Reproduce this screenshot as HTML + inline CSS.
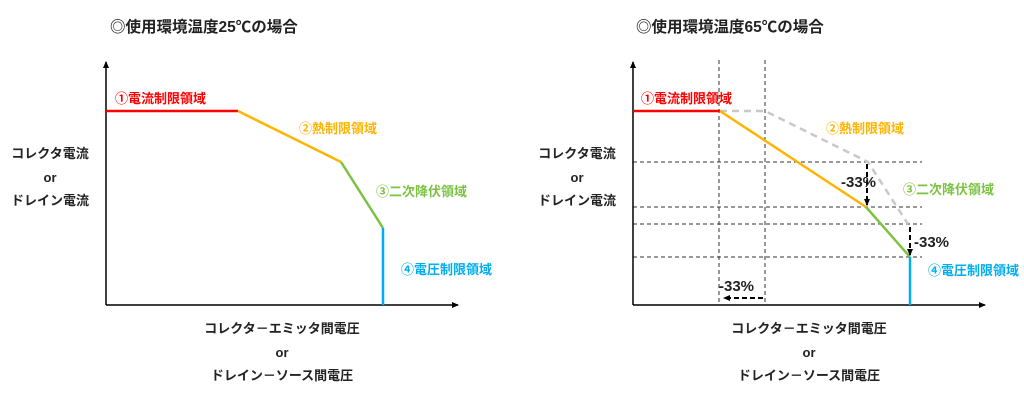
<!DOCTYPE html>
<html><head><meta charset="utf-8"><style>
html,body{margin:0;padding:0;background:#fff;}
svg{display:block;}
text{font-family:"Liberation Sans","Noto Sans CJK JP",sans-serif;font-weight:bold;}
</style></head><body>
<svg width="1024" height="414" viewBox="0 0 1024 414" xmlns="http://www.w3.org/2000/svg">
<defs>
<marker id="ah" markerWidth="8" markerHeight="8" refX="6" refY="4" orient="auto" markerUnits="userSpaceOnUse"><path d="M0,1 L7,4 L0,7 z" fill="#000"/></marker>
</defs>
<!-- LEFT -->
<text x="110" y="32" font-size="15.5" fill="#222">◎使用環境温度25℃の場合</text>
<line x1="106" y1="305" x2="106" y2="62" stroke="#000" stroke-width="1.5" marker-end="url(#ah)"/>
<line x1="106" y1="305" x2="458" y2="305" stroke="#000" stroke-width="1.5" marker-end="url(#ah)"/>
<line x1="106" y1="111" x2="238" y2="111" stroke="#f00" stroke-width="2.5"/>
<line x1="238" y1="111" x2="341" y2="162" stroke="#ffb400" stroke-width="2.5"/>
<line x1="341" y1="162" x2="383" y2="228" stroke="#7cc242" stroke-width="2.5"/>
<line x1="383" y1="228" x2="383" y2="305" stroke="#00aeef" stroke-width="2.5"/>
<text x="115" y="103" font-size="13" fill="#f00">①電流制限領域</text>
<text x="299" y="133" font-size="13" fill="#ffb400">②熱制限領域</text>
<text x="376" y="196" font-size="13" fill="#7cc242">③二次降伏領域</text>
<text x="401" y="274" font-size="13" fill="#00aeef">④電圧制限領域</text>
<g font-size="13" fill="#222" text-anchor="middle">
<text x="50" y="158">コレクタ電流</text>
<text x="50" y="182">or</text>
<text x="50" y="205">ドレイン電流</text>
<text x="282" y="333">コレクタ－エミッタ間電圧</text>
<text x="282" y="357">or</text>
<text x="282" y="380">ドレイン－ソース間電圧</text>
</g>
<!-- RIGHT -->
<text x="636" y="32" font-size="15.5" fill="#222">◎使用環境温度65℃の場合</text>
<g stroke="#333" stroke-width="1" stroke-dasharray="4,3">
<line x1="719" y1="60" x2="719" y2="305"/>
<line x1="765" y1="60" x2="765" y2="305"/>
<line x1="633" y1="162" x2="922" y2="162"/>
<line x1="633" y1="207" x2="922" y2="207"/>
<line x1="633" y1="224" x2="922" y2="224"/>
<line x1="633" y1="257" x2="922" y2="257"/>
</g>
<line x1="633" y1="305" x2="633" y2="62" stroke="#000" stroke-width="1.5" marker-end="url(#ah)"/>
<line x1="633" y1="305" x2="985" y2="305" stroke="#000" stroke-width="1.5" marker-end="url(#ah)"/>
<polyline points="720,111 765,111 868,162 908,224" fill="none" stroke="#c8c8c8" stroke-width="2.5" stroke-dasharray="7,5"/>
<line x1="633" y1="111" x2="720" y2="111" stroke="#f00" stroke-width="2.5"/>
<line x1="720" y1="111" x2="866" y2="207" stroke="#ffb400" stroke-width="2.5"/>
<line x1="866" y1="207" x2="910" y2="257" stroke="#7cc242" stroke-width="2.5"/>
<line x1="910" y1="257" x2="910" y2="305" stroke="#00aeef" stroke-width="2.5"/>
<g stroke="#000" stroke-width="2" stroke-dasharray="5,3">
<line x1="867" y1="164" x2="867" y2="205" marker-end="url(#ah)"/>
<line x1="910" y1="227" x2="910" y2="255" marker-end="url(#ah)"/>
<line x1="763" y1="298" x2="724" y2="298" marker-end="url(#ah)"/>
</g>
<text x="641" y="103" font-size="13" fill="#f00">①電流制限領域</text>
<text x="826" y="133" font-size="13" fill="#ffb400">②熱制限領域</text>
<text x="903" y="194" font-size="13" fill="#7cc242">③二次降伏領域</text>
<text x="928" y="275" font-size="13" fill="#00aeef">④電圧制限領域</text>
<g font-size="15" fill="#222">
<text x="841" y="187">-33%</text>
<text x="914" y="247">-33%</text>
<text x="719" y="291">-33%</text>
</g>
<g font-size="13" fill="#222" text-anchor="middle">
<text x="577" y="158">コレクタ電流</text>
<text x="577" y="182">or</text>
<text x="577" y="205">ドレイン電流</text>
<text x="809" y="333">コレクタ－エミッタ間電圧</text>
<text x="809" y="357">or</text>
<text x="809" y="380">ドレイン－ソース間電圧</text>
</g>
</svg>
</body></html>
